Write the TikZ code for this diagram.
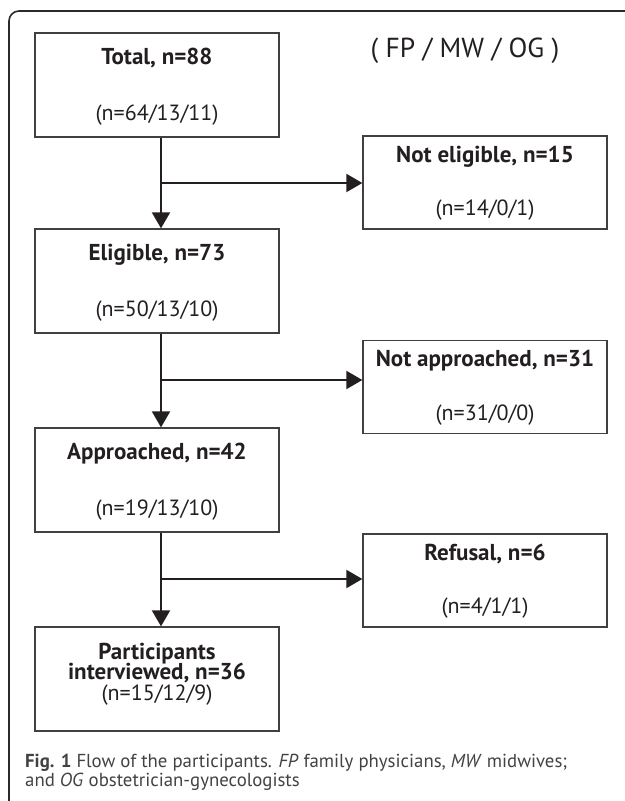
\documentclass[tikz,border=0pt]{standalone}
\usepackage{fontspec}
\setmainfont{PT Sans}
\usetikzlibrary{arrows.meta}
\definecolor{boxc}{HTML}{404040}
\definecolor{txt}{HTML}{231F20}
\definecolor{arrc}{HTML}{231F20}
\definecolor{framec}{HTML}{2A2A2A}
\begin{document}
\begin{tikzpicture}[x=1bp,y=-1bp,
  box/.style={draw=boxc, line width=1.3bp, minimum width=244bp, inner sep=0pt},
  lbox/.style={box, minimum height=104bp},
  rbox/.style={box, minimum height=93bp},
  ttl/.style={font=\fontsize{23bp}{25bp}\selectfont\bfseries, text=txt, inner sep=0pt, anchor=base},
  sub/.style={font=\fontsize{22bp}{24bp}\selectfont, text=txt, inner sep=0pt, anchor=base},
  arr/.style={line width=2bp, draw=arrc, -{Triangle[length=16bp,width=18bp]}},
  captxt/.style={font=\fontsize{18.8bp}{21bp}\selectfont, text=txt!85!white, inner sep=0pt, anchor=base west}]
\useasboundingbox (0,0) rectangle (625,801);
\draw[line width=1.6bp, draw=framec, rounded corners=10bp] (9,11) rectangle (680,850);

% boxes
\node[lbox] (t) at (157,85) {};
\node[rbox] (ne) at (485,182.5) {};
\node[lbox] (e) at (157,281) {};
\node[rbox] (na) at (485,387) {};
\node[lbox] (a) at (157,480) {};
\node[rbox] (r) at (485,580.5) {};
\node[lbox] (p) at (157,679) {};

% texts
\node[ttl] (t1) at ([yshift=-32bp]t.north) {Total, n=88};
\node[sub] (t2) at ([yshift=17bp]t.south) {(n=64/13/11)};
\node[ttl] (ne1) at ([yshift=-27bp]ne.north) {Not eligible, n=15};
\node[sub] (ne2) at ([yshift=14bp]ne.south) {(n=14/0/1)};
\node[ttl] (e1) at ([yshift=-32bp]e.north) {Eligible, n=73};
\node[sub] (e2) at ([yshift=17bp]e.south) {(n=50/13/10)};
\node[ttl] (na1) at ([yshift=-27bp]na.north) {Not approached, n=31};
\node[sub] (na2) at ([yshift=14bp]na.south) {(n=31/0/0)};
\node[ttl] (a1) at ([yshift=-32bp]a.north) {Approached, n=42};
\node[sub] (a2) at ([yshift=17bp]a.south) {(n=19/13/10)};
\node[ttl] (r1) at ([yshift=-27bp]r.north) {Refusal, n=6};
\node[sub] (r2) at ([yshift=14bp]r.south) {(n=4/1/1)};
\node[font={\fontsize{23bp}{19.5bp}\selectfont\lineskiplimit=-100bp\relax}, text=txt, inner sep=0pt, align=center, anchor=center] (p1) at (157,674)
  {\bfseries Participants\\\bfseries interviewed, n=36\\[1.5bp]\fontsize{22bp}{19.5bp}\selectfont (n=15/12/9)};

\node[font=\fontsize{27.5bp}{29bp}\selectfont, text=txt, inner sep=0pt, anchor=base] (hdr) at (465,58) {( FP / MW / OG )};

% connectors
\coordinate (cx) at (161,0);
\coordinate (b1) at (161,183);
\coordinate (b2) at (161,380);
\coordinate (b3) at (161,579);
\draw[arr] (t.south -| cx) -- (e.north -| cx);
\draw[arr] (b1) -- (b1 -| ne.west);
\draw[arr] (e.south -| cx) -- (a.north -| cx);
\draw[arr] (b2) -- (b2 -| na.west);
\draw[arr] (a.south -| cx) -- (p.north -| cx);
\draw[arr] (b3) -- (b3 -| r.west);

% caption
\node[captxt] (c1) at (25,767) {\textbf{Fig. 1} Flow of the participants. \textit{FP} family physicians, \textit{MW} midwives;};
\node[captxt] (c2) at (25,786) {and \textit{OG} obstetrician-gynecologists};
\end{tikzpicture}
\end{document}
